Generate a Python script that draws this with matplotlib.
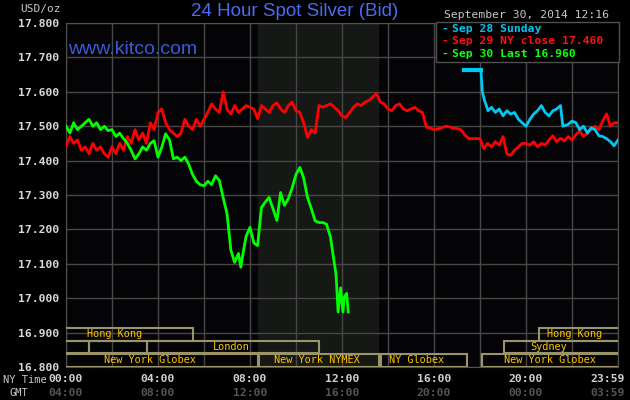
import matplotlib
matplotlib.use("Agg")
import matplotlib.pyplot as plt
import matplotlib.transforms as mtransforms
from matplotlib.patches import Rectangle

# Sep 29 (red), 10-minute readings over the whole day
red_vals = [
    17.44, 17.47, 17.45, 17.46, 17.43, 17.44,
    17.42, 17.45, 17.43, 17.44, 17.42, 17.41,
    17.44, 17.42, 17.45, 17.43, 17.47, 17.45,
    17.49, 17.46, 17.48, 17.45, 17.51, 17.49,
    17.54, 17.55, 17.51, 17.49, 17.48, 17.47,
    17.48, 17.52, 17.50, 17.49, 17.52, 17.50,
    17.52, 17.54, 17.565, 17.55, 17.54, 17.60,
    17.55, 17.535, 17.56, 17.54, 17.55, 17.56,
    17.555, 17.55, 17.522, 17.56, 17.55, 17.54,
    17.56, 17.568, 17.55, 17.54, 17.56, 17.57,
    17.545, 17.54, 17.51, 17.467, 17.49, 17.48,
    17.56, 17.555, 17.56, 17.565, 17.555, 17.545,
    17.53, 17.525, 17.54, 17.555, 17.565, 17.56,
    17.57, 17.575, 17.585, 17.595, 17.57, 17.565,
    17.55, 17.545, 17.56, 17.565, 17.55, 17.545,
    17.55, 17.555, 17.545, 17.54, 17.497, 17.495,
    17.49, 17.492, 17.495, 17.50, 17.498, 17.495,
    17.493, 17.49, 17.475, 17.464, 17.464, 17.464,
    17.464, 17.435, 17.45, 17.44, 17.455, 17.445,
    17.47, 17.42, 17.415, 17.43, 17.44, 17.45,
    17.45, 17.445, 17.455, 17.44, 17.45, 17.445,
    17.46, 17.472, 17.455, 17.465, 17.457, 17.47,
    17.46, 17.475, 17.487, 17.47, 17.48, 17.49,
    17.50, 17.49, 17.515, 17.536, 17.50, 17.51,
    17.51,
]
red_hours = [i / 6 for i in range(len(red_vals))]

# Sep 30 (green), up to 12:16
green_hours = [
    0.0, 0.17, 0.33, 0.5, 0.67, 0.83,
    1.0, 1.17, 1.33, 1.5, 1.67, 1.83,
    2.0, 2.17, 2.33, 2.5, 2.67, 2.83,
    3.0, 3.17, 3.33, 3.5, 3.67, 3.83,
    4.0, 4.17, 4.33, 4.5, 4.67, 4.83,
    5.0, 5.17, 5.33, 5.5, 5.67, 5.83,
    6.0, 6.17, 6.33, 6.5, 6.67, 6.83,
    7.0, 7.17, 7.33, 7.5, 7.6, 7.67, 7.83,
    8.0, 8.17, 8.33, 8.5, 8.67, 8.83,
    9.0, 9.17, 9.33, 9.5, 9.67, 9.83,
    10.0, 10.17, 10.33, 10.5, 10.67, 10.83,
    11.0, 11.17, 11.33, 11.5, 11.67, 11.74, 11.83,
    11.94, 12.04, 12.1, 12.2, 12.27,
]
green_vals = [
    17.50, 17.48, 17.51, 17.49, 17.50, 17.51,
    17.52, 17.50, 17.51, 17.49, 17.50, 17.487,
    17.49, 17.47, 17.48, 17.464, 17.45, 17.43,
    17.405, 17.42, 17.44, 17.43, 17.45, 17.458,
    17.41, 17.44, 17.478, 17.46, 17.405, 17.41,
    17.40, 17.41, 17.39, 17.36, 17.34, 17.33,
    17.327, 17.34, 17.33, 17.356, 17.342, 17.293,
    17.246, 17.139, 17.104, 17.13, 17.09, 17.12, 17.18,
    17.206, 17.16, 17.153, 17.264, 17.28, 17.293,
    17.26, 17.226, 17.307, 17.27, 17.29, 17.32,
    17.36, 17.38, 17.35, 17.293, 17.26, 17.225,
    17.22, 17.22, 17.215, 17.177, 17.10, 17.07, 16.96,
    17.03, 16.96, 17.003, 17.014, 16.96,
]

# Sep 28 Sunday (blue), from the evening open
blue_hours = [
    17.3, 18.04, 18.1, 18.2, 18.35, 18.5, 18.67, 18.83,
    19.0, 19.17, 19.33, 19.5, 19.67, 19.83,
    20.0, 20.17, 20.33, 20.5, 20.67, 20.83,
    21.0, 21.17, 21.33, 21.5, 21.6, 21.83,
    22.0, 22.17, 22.33, 22.5, 22.67, 22.83,
    23.0, 23.17, 23.33, 23.5, 23.67, 23.83, 24.0,
]
blue_vals = [
    17.664, 17.664, 17.60, 17.574, 17.545, 17.555, 17.54, 17.55,
    17.53, 17.545, 17.535, 17.54, 17.52, 17.51,
    17.50, 17.52, 17.535, 17.545, 17.56, 17.54,
    17.53, 17.545, 17.55, 17.56, 17.50, 17.505,
    17.515, 17.51, 17.49, 17.50, 17.48, 17.495,
    17.49, 17.472, 17.47, 17.464, 17.455, 17.443, 17.46,
]

y_ticks = [16.8, 16.9, 17.0, 17.1, 17.2, 17.3, 17.4, 17.5, 17.6, 17.7, 17.8]
ny_labels = ["00:00", "04:00", "08:00", "12:00", "16:00", "20:00", "23:59"]
gmt_labels = ["04:00", "08:00", "12:00", "16:00", "20:00", "00:00", "03:59"]
label_hours = [0, 4, 8, 12, 16, 20, 23.55]

# market sessions: (row, start, end, label, label hour)
sessions = [
    (2, -1.25, 5.5, "Hong Kong", 2.13),
    (2, 20.57, 25, "Hong Kong", 22.1),
    (1, -1, 1, "", 0),
    (1, 1, 3.5, "", 0),
    (1, 3.5, 11, "London", 7.2),
    (1, 19.04, 25, "Sydney", 21.0),
    (0, -1, 8.33, "New York Globex", 3.66),
    (0, 8.37, 13.6, "New York NYMEX", 10.9),
    (0, 13.7, 17.43, "NY Globex", 15.26),
    (0, 18.1, 25, "New York Globex", 21.05),
]

W, H = 630, 400
mono = "DejaVu Sans Mono"
fig = plt.figure(figsize=(6.3, 4.0), dpi=100, facecolor="#000000")
ax = fig.add_axes([66 / W, 1 - 367 / H, (618 - 66) / W, (367 - 23) / H])
ax.set_facecolor("#040407")
ax.set_xlim(0, 24)
ax.set_ylim(16.8, 17.8)

ax.axvspan(8.33, 13.58, color="#151815", zorder=0)

ax.set_xticks(range(0, 25, 2))
ax.set_yticks(y_ticks)
ax.set_yticklabels(["%.3f" % v for v in y_ticks])
ax.grid(True, color="#474747", linewidth=1)
ax.tick_params(axis="x", length=0, labelbottom=False)
ax.tick_params(axis="y", length=0, pad=5, labelcolor="#d8d8d8", labelsize=8.2)
for lab in ax.get_yticklabels():
    lab.set_family(mono)
    lab.set_weight("bold")
for sp in ax.spines.values():
    sp.set_color("#505050")

ax.plot(red_hours, red_vals, color="#ff0000", linewidth=2.0, zorder=3)
ax.plot(green_hours, green_vals, color="#00ff00", linewidth=2.0, zorder=4)
ax.plot(blue_hours[:2], blue_vals[:2], color="#00c8f0", linewidth=3, zorder=3)
ax.plot(blue_hours[1:], blue_vals[1:], color="#00c8f0", linewidth=2.0, zorder=3)

# session bands along the bottom
trans = mtransforms.blended_transform_factory(ax.transData, ax.transAxes)
row_y = [(0.0, 0.038), (0.041, 0.076), (0.076, 0.113)]
for row, x0, x1, label, lx in sessions:
    y0, y1 = row_y[row]
    ax.add_patch(Rectangle((x0, y0), x1 - x0, y1 - y0, transform=trans,
                           fill=False, edgecolor="#9a9468", linewidth=1.5, zorder=5))
    if label:
        ax.text(lx, (y0 + y1) / 2, label, transform=trans, ha="center", va="center",
                color="#ffc400", fontsize=7.4, family=mono, zorder=6)

# time labels
for h, ny, gmt in zip(label_hours, ny_labels, gmt_labels):
    px = (66 + h * 23.0) / W
    fig.text(px, 1 - 379 / H, ny, ha="center", va="center", color="#d0d0d0",
             fontsize=8.2, family=mono, weight="bold")
    fig.text(px, 1 - 393 / H, gmt, ha="center", va="center", color="#555555",
             fontsize=8.2, family=mono, weight="bold")
fig.text(3 / W, 1 - 380 / H, "NY Time", ha="left", va="center", color="#c8c8c8",
         fontsize=7.5, family=mono)
fig.text(9 / W, 1 - 393 / H, "GMT", ha="left", va="center", color="#c8c8c8",
         fontsize=7.5, family=mono)

# header texts
fig.text(20 / W, 1 - 9 / H, "USD/oz", ha="left", va="center", color="#c8c8c8",
         fontsize=8, family=mono)
fig.text(295 / W, 1 - 12 / H, "24 Hour Spot Silver (Bid)", ha="center", va="center",
         color="#4a6cf0", fontsize=13.5, family=["Liberation Sans Narrow", "Liberation Sans"])
fig.text(68 / W, 1 - 49 / H, "www.kitco.com", ha="left", va="center",
         color="#3a5ad8", fontsize=14, family="Liberation Sans")
fig.text(527 / W, 1 - 15 / H, "September 30, 2014 12:16", ha="center", va="center",
         color="#c8c8c8", fontsize=8.2, family=mono)

# legend box
fig.add_artist(Rectangle((436 / W, 1 - 62 / H), (619 - 436) / W, 40 / H,
                         transform=fig.transFigure, facecolor="#000000",
                         edgecolor="#505050", linewidth=1))
legend_items = [("Sep 28 Sunday", "#00c8f0", 29),
                ("Sep 29 NY close 17.460", "#ff1010", 41),
                ("Sep 30 Last 16.960", "#10ff10", 54)]
for txt, col, py in legend_items:
    fig.text(441 / W, 1 - py / H, "-", ha="left", va="center", color=col,
             fontsize=8.2, family=mono, weight="bold")
    fig.text(452 / W, 1 - py / H, txt, ha="left", va="center", color=col,
             fontsize=8.2, family=mono, weight="bold")

fig.savefig("out.png", dpi=100, facecolor=fig.get_facecolor())
